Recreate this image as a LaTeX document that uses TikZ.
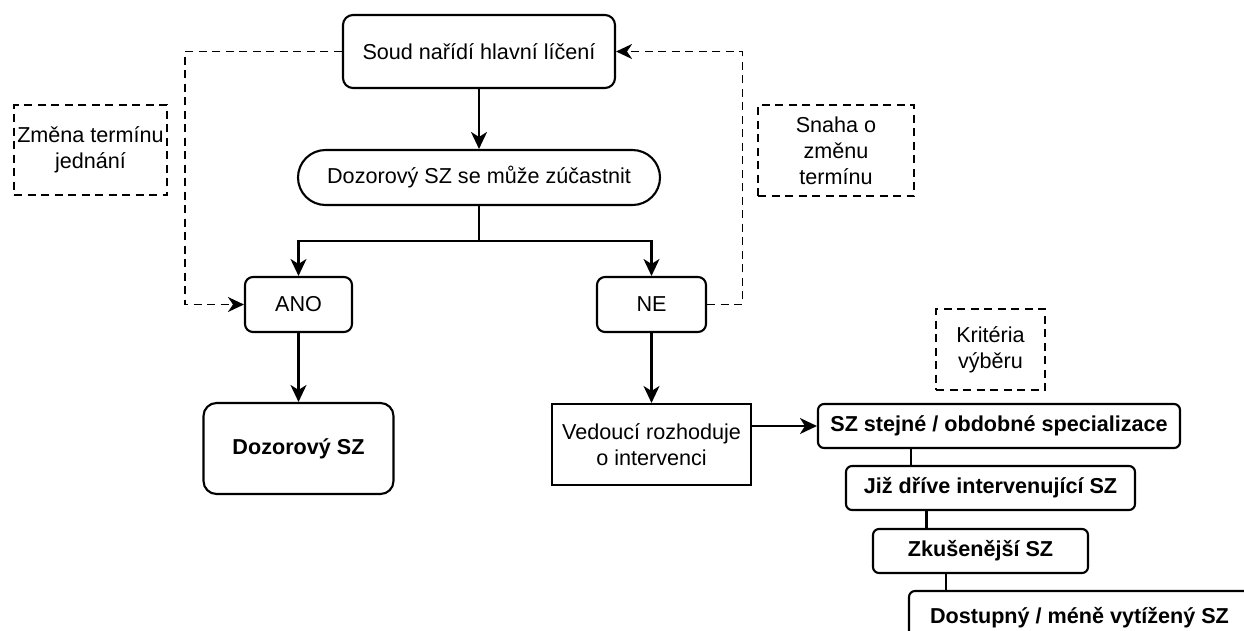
\documentclass[tikz,border=0pt]{standalone}
\usepackage{fontspec}
\setmainfont{Liberation Sans}
\usetikzlibrary{arrows.meta,shapes.misc}
\begin{document}
\begin{tikzpicture}[x=1pt,y=-1pt,
  every node/.style={font=\fontsize{21.6}{26}\selectfont, align=center, inner sep=0pt},
  box/.style={draw, line width=2.1pt, rounded corners=#1},
  box/.default=7pt,
  sharpbox/.style={draw, line width=2.1pt},
  stad/.style={draw, line width=2.1pt, rounded rectangle},
  note/.style={draw, line width=1.7pt, dash pattern=on 8pt off 5.5pt},
  arr/.style={line width=2.1pt, -{Stealth[length=17pt,width=16pt,inset=5pt]}},
  dsh/.style={line width=1.7pt, dash pattern=on 8pt off 5.5pt, -{Stealth[length=16pt,width=15pt,inset=5pt]}},
  conn/.style={line width=2.1pt},
  bold/.style={font=\fontsize{21.6}{26}\selectfont\bfseries}
]
\useasboundingbox (0,0) rectangle (1244,630);
\clip (0,0) rectangle (1244,630);

% main flow
\node[box=10pt, minimum width=272pt, minimum height=73pt] (soud) at (479,51.5) {Soud nařídí hlavní líčení};
\node[stad, minimum width=362pt, minimum height=55pt] (dsz) at (479,177.5) {Dozorový SZ se může zúčastnit};
\node[box=8pt, minimum width=107pt, minimum height=55pt] (ano) at (298.5,304.5) {ANO};
\node[box=8pt, minimum width=109pt, minimum height=55pt] (ne) at (651.5,304.5) {NE};
\node[box=13pt, bold, minimum width=190pt, minimum height=91pt] (dozor) at (298.5,448.5) {Dozorový SZ};
\node[sharpbox, minimum width=199pt, minimum height=81pt] (ved) at (651.5,444.5) {Vedoucí rozhoduje\\o intervenci};

% notes
\node[note, minimum width=153pt, minimum height=90pt] (zmena) at (90.5,150) {Změna termínu\\jednání};
\node[note, minimum width=156pt, minimum height=91pt] (snaha) at (836,150.5) {Snaha o\\změnu\\termínu};
\node[note, minimum width=109pt, minimum height=81pt] (krit) at (990.5,349.5) {Kritéria\\výběru};

% criteria
\node[box=6pt, bold, minimum width=362pt, minimum height=44pt] (sz1) at (999,426) {SZ stejné / obdobné specializace};
\node[box=6pt, bold, minimum width=289pt, minimum height=44pt] (sz2) at (990.5,488) {Již dříve intervenující SZ};
\node[box=6pt, bold, minimum width=215pt, minimum height=44pt] (sz3) at (980.5,551) {Zkušenější SZ};
\node[box=6pt, bold, minimum width=341pt, minimum height=54pt] (sz4) at (1079.5,618) {Dostupný / méně vytížený SZ};

% connectors
\coordinate (j) at (479,241);
\coordinate (l1) at (185,51.5);
\coordinate (r1) at (742.5,51.5);

\draw[arr] (soud.south) -- (dsz.north);
\draw[conn] (dsz.south) -- (j);
\draw[arr] (j) -| (ano.north);
\draw[arr] (j) -| (ne.north);
\draw[arr] (ano.south) -- (dozor.north);
\draw[arr] (ne.south) -- (ved.north);
\draw[arr] (ved.east |- sz1.west) -- (sz1.west);

\draw[dsh] (soud.west) -- (l1) |- (ano.west);
\draw[dsh] (ne.east) -| (r1) -- (soud.east);

\draw[conn] (911,0 |- sz1.south) -- (911,0 |- sz2.north);
\draw[conn] (926.5,0 |- sz2.south) -- (926.5,0 |- sz3.north);
\draw[conn] (946,0 |- sz3.south) -- (946,0 |- sz4.north);
\end{tikzpicture}
\end{document}
